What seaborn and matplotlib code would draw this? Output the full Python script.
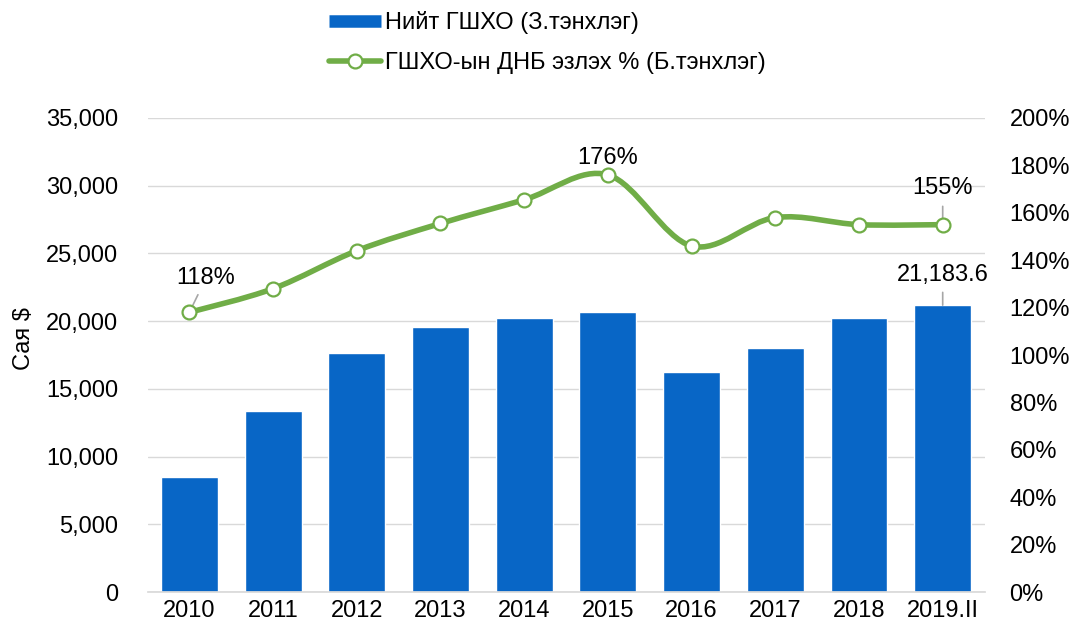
import numpy as np
import pandas as pd
import matplotlib
matplotlib.use("Agg")
import matplotlib.pyplot as plt
import seaborn as sns
from matplotlib.path import Path
from matplotlib.patches import PathPatch
from matplotlib.lines import Line2D
from matplotlib.ticker import FuncFormatter, MultipleLocator

categories = ["2010", "2011", "2012", "2013", "2014", "2015", "2016", "2017", "2018", "2019.II"]
debt_usd_mn = [8500, 13400, 17650, 19600, 20250, 20700, 16250, 18000, 20250, 21183.6]
debt_gdp_pct = [118, 128, 144, 155.5, 165.5, 176, 146, 158, 155, 155]

bar_label = "Нийт ГШХО (З.тэнхлэг)"
line_label = "ГШХО-ын ДНБ эзлэх % (Б.тэнхлэг)"
y_label = "Сая $"

BLUE = "#0866C6"
GREEN = "#70AD47"
FS = 17

sns.set_theme(style="white")
plt.rcParams["font.family"] = ["Liberation Sans", "DejaVu Sans"]
plt.rcParams["text.color"] = "black"
plt.rcParams["axes.labelcolor"] = "black"

fig = plt.figure(figsize=(10.69, 6.3), dpi=100)
ax = fig.add_axes([0.138, 0.0603, 0.783, 0.7524])

df = pd.DataFrame({"cat": categories, "val": debt_usd_mn})
sns.barplot(data=df, x="cat", y="val", ax=ax, color=BLUE, width=0.68, saturation=1)
ax.set_ylim(0, 35000)
ax.set_xlim(-0.5, len(categories) - 0.5)
ax.yaxis.set_major_locator(MultipleLocator(5000))
ax.yaxis.set_major_formatter(FuncFormatter(lambda v, p: f"{int(v):,}"))
ax.grid(axis="y", color="#D9D9D9", linewidth=1)
ax.set_axisbelow(True)
for s in ["top", "right", "left"]:
    ax.spines[s].set_visible(False)
ax.spines["bottom"].set_color("#D9D9D9")
ax.set_xlabel("")
ax.set_ylabel(y_label, fontsize=FS, color="black")
ax.yaxis.set_label_coords(-0.135, 0.535)
ax.tick_params(axis="x", labelsize=FS, colors="black", length=0, pad=6)
ax.tick_params(axis="y", labelsize=FS, colors="black", length=0, pad=21)

ax2 = ax.twinx()
ax2.set_ylim(0, 200)
ax2.yaxis.set_major_locator(MultipleLocator(20))
ax2.yaxis.set_major_formatter(FuncFormatter(lambda v, p: f"{int(v)}%"))
ax2.tick_params(axis="y", labelsize=FS, colors="black", length=0, pad=18)
for s in ax2.spines.values():
    s.set_visible(False)
ax2.grid(False)

# smooth curve (Catmull-Rom converted to cubic Bezier)
xs = np.arange(len(categories), dtype=float)
ys = np.array(debt_gdp_pct, dtype=float)
verts = [(xs[0], ys[0])]
codes = [Path.MOVETO]
t = 1 / 6
for i in range(len(xs) - 1):
    p0 = np.array([xs[max(i - 1, 0)], ys[max(i - 1, 0)]])
    p1 = np.array([xs[i], ys[i]])
    p2 = np.array([xs[i + 1], ys[i + 1]])
    p3 = np.array([xs[min(i + 2, len(xs) - 1)], ys[min(i + 2, len(xs) - 1)]])
    c1 = p1 + (p2 - p0) * t
    c2 = p2 - (p3 - p1) * t
    verts += [tuple(c1), tuple(c2), tuple(p2)]
    codes += [Path.CURVE4] * 3
ax2.add_patch(PathPatch(Path(verts, codes), facecolor="none", edgecolor=GREEN,
                        linewidth=4, capstyle="round", joinstyle="round", zorder=3))
sns.scatterplot(x=xs, y=ys, ax=ax2, s=100, color="white", edgecolor=GREEN,
                linewidth=1.6, zorder=5, legend=False)

# annotations
lc = "#A6A6A6"
ax2.annotate(f"{debt_gdp_pct[0]:.0f}%", xy=(xs[0], ys[0]), xytext=(xs[0] + 0.2, ys[0] + 14.5),
             fontsize=FS, ha="center", va="center", zorder=4, color="black",
             arrowprops=dict(arrowstyle="-", color=lc, lw=1.2, shrinkA=2, shrinkB=0, zorder=4))
ax2.annotate(f"{debt_gdp_pct[5]:.0f}%", xy=(xs[5], ys[5]), xytext=(xs[5], ys[5] + 7),
             fontsize=FS, ha="center", va="center", color="black")
ax2.annotate(f"{debt_gdp_pct[9]:.0f}%", xy=(xs[9], ys[9]), xytext=(xs[9], ys[9] + 15.5),
             fontsize=FS, ha="center", va="center", zorder=4, color="black",
             arrowprops=dict(arrowstyle="-", color=lc, lw=1.2, shrinkA=3, shrinkB=0, zorder=4))
ax.annotate(f"{debt_usd_mn[9]:,.1f}", xy=(xs[9], debt_usd_mn[9]), xytext=(xs[9], debt_usd_mn[9] + 2200),
            fontsize=FS, ha="center", va="center", color="black",
            arrowprops=dict(arrowstyle="-", color=lc, lw=1.2, shrinkA=2, shrinkB=0))

handles = [Line2D([0], [0], color=BLUE, linewidth=9, solid_capstyle="butt"),
           Line2D([0], [0], color=GREEN, linewidth=4, marker="o", markersize=10,
                  markerfacecolor="white", markeredgecolor=GREEN, markeredgewidth=1.6)]
leg = fig.legend(handles, [bar_label, line_label], loc="upper center", bbox_to_anchor=(0.512, 1.016),
                 ncol=1, frameon=False, fontsize=FS, handlelength=2.2, handletextpad=0.15,
                 labelspacing=0.75)
for txt in leg.get_texts():
    txt.set_color("black")

fig.savefig("out.png", dpi=100)
